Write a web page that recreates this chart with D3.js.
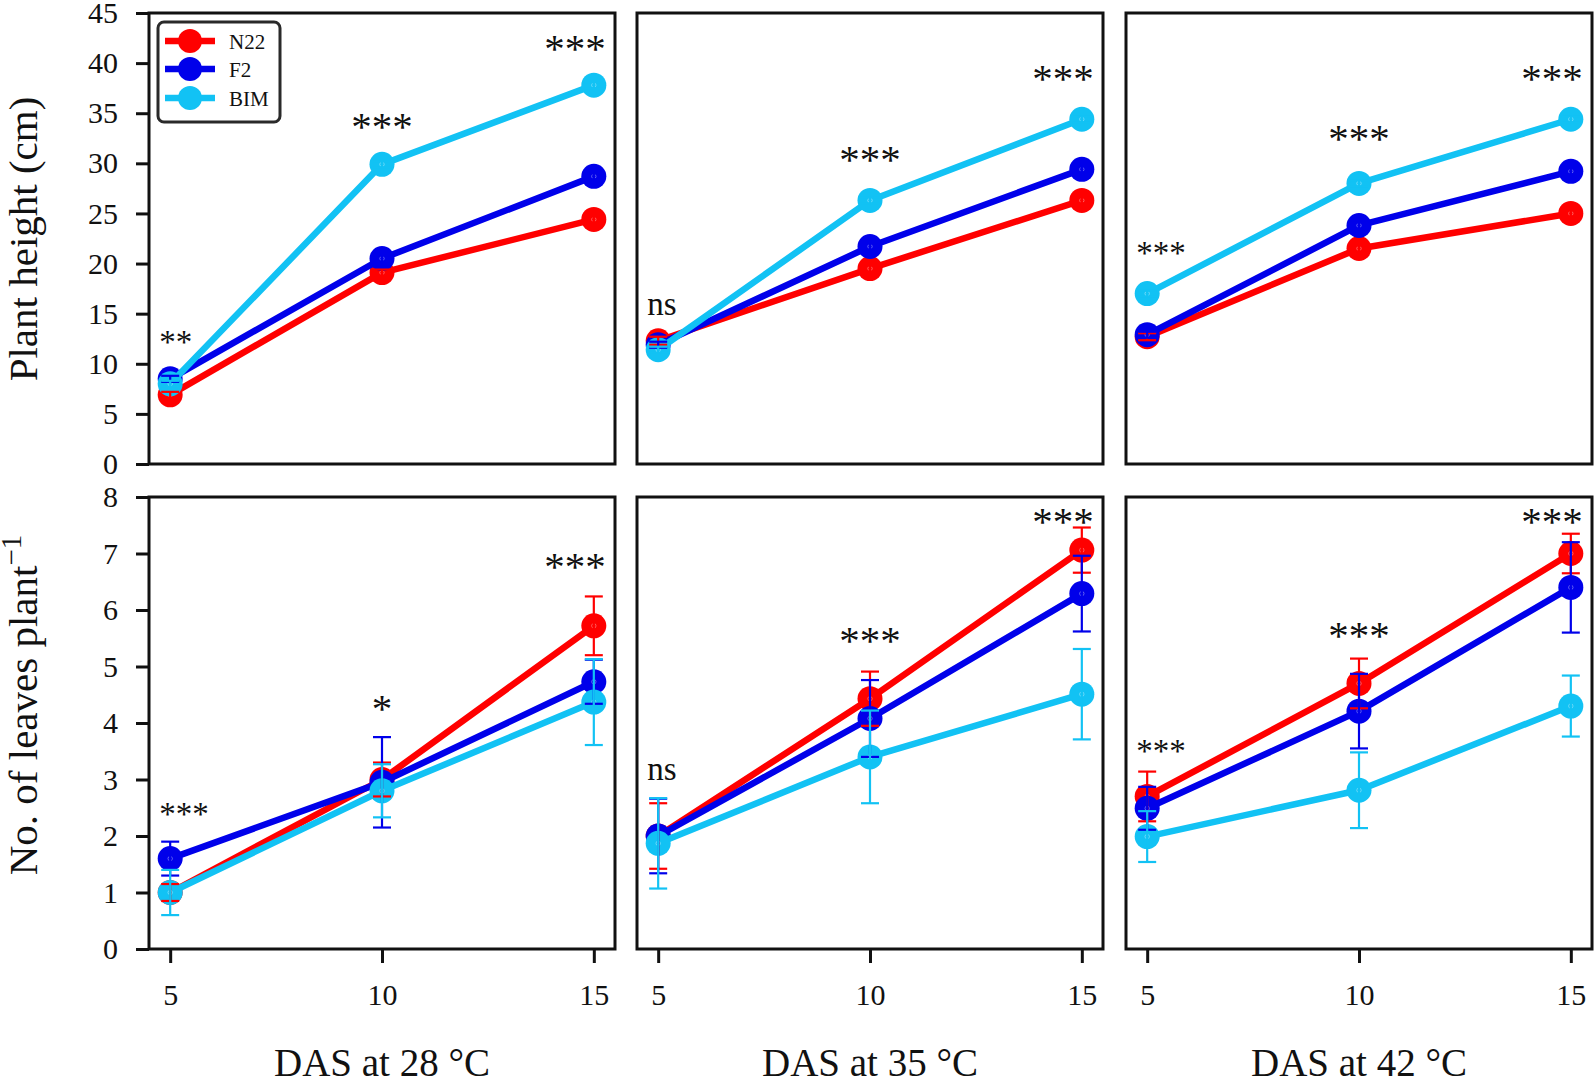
<!DOCTYPE html>
<html><head><meta charset="utf-8">
<script src="https://cdn.jsdelivr.net/npm/d3@7"></script>
<style>
body{margin:0;background:#fff}
svg{display:block}
text{font-family:"Liberation Serif","Times New Roman",serif;fill:#111}
</style>
</head><body>
<svg id="chart" width="1595" height="1084"></svg>
<script>
// ---------------- data ----------------
const days = [5, 10, 15];
const temperatures = ["28", "35", "42"];
const seriesNames = ["N22", "F2", "BIM"];
const seriesColors = ["#ff0000", "#0000ea", "#12c2f4"];

// Plant height (cm): [panel 28°C, 35°C, 42°C] x [5, 10, 15 DAS]
const heightN22 = [[6.9, 19.1, 24.4], [12.3, 19.5, 26.3], [12.7, 21.5, 25.0]];
const heightF2  = [[8.5, 20.5, 28.7], [11.9, 21.7, 29.4], [12.9, 23.8, 29.2]];
const heightBIM = [[8.0, 29.9, 37.8], [11.4, 26.3, 34.4], [17.0, 28.0, 34.4]];
const heightN22Err = [[0.3, 0.3, 0.3], [0.4, 0.3, 0.3], [0.35, 0.3, 0.3]];
const heightF2Err  = [[0.3, 0.3, 0.3], [0.3, 0.3, 0.3], [0.3, 0.3, 0.3]];
const heightBIMErr = [[0.3, 0.3, 0.3], [0.3, 0.3, 0.3], [0.3, 0.3, 0.3]];

// No. of leaves per plant
const leavesN22 = [[1.0, 3.0, 5.72], [2.0, 4.43, 7.06], [2.7, 4.7, 7.0]];
const leavesF2  = [[1.6, 2.95, 4.73], [2.0, 4.08, 6.29], [2.49, 4.21, 6.4]];
const leavesBIM = [[1.0, 2.8, 4.37], [1.87, 3.4, 4.51], [1.99, 2.81, 4.3]];
const leavesN22Err = [[0.15, 0.3, 0.52], [0.58, 0.48, 0.4], [0.44, 0.44, 0.35]];
const leavesF2Err  = [[0.3, 0.8, 0.39], [0.66, 0.68, 0.67], [0.38, 0.66, 0.8]];
const leavesBIMErr = [[0.4, 0.47, 0.76], [0.8, 0.82, 0.8], [0.45, 0.67, 0.54]];

// significance labels and their (baseline) heights in data units
const heightSig  = [["**", "***", "***"], ["ns", "***", "***"], ["***", "***", "***"]];
const heightSigY = [[11.1, 32.3, 40.1], [14.9, 29.0, 37.1], [20.0, 31.1, 37.1]];
const leavesSig  = [["***", "*", "***"], ["ns", "***", "***"], ["***", "***", "***"]];
const leavesSigY = [[2.19, 4.01, 6.53], [2.99, 5.22, 7.32], [3.31, 5.31, 7.32]];

const heightTicks = [0, 5, 10, 15, 20, 25, 30, 35, 40, 45];
const leavesTicks = [0, 1, 2, 3, 4, 5, 6, 7, 8];
const dayTicks = [5, 10, 15];

// ---------------- layout ----------------
const FONT = '"Liberation Serif","Times New Roman",serif';
const svg = d3.select("#chart");
const panelLeft = [149, 637, 1126];
const panelW = 466;
const rowsCfg = [
  { top: 13, bottom: 464, domain: [0, 45], ticks: heightTicks,
    vals: [heightN22, heightF2, heightBIM], errs: [heightN22Err, heightF2Err, heightBIMErr],
    sig: heightSig, sigY: heightSigY },
  { top: 497, bottom: 949, domain: [0, 8], ticks: leavesTicks,
    vals: [leavesN22, leavesF2, leavesBIM], errs: [leavesN22Err, leavesF2Err, leavesBIMErr],
    sig: leavesSig, sigY: leavesSigY }
];

const sigAnchor = ["start", "middle", "end"];
const sigShift = [-0.26, 0, 0.28];
const sigSize = [33, 41, 41];

rowsCfg.forEach((row, ri) => {
  const y = d3.scaleLinear().domain(row.domain).range([row.bottom, row.top]);
  temperatures.forEach((t, pi) => {
    const x = d3.scaleLinear().domain([4.5, 15.5]).range([panelLeft[pi], panelLeft[pi] + panelW]);
    const g = svg.append("g");

    // lines + markers
    seriesNames.forEach((s, si) => {
      const pts = days.map((d, di) => ({ d, v: row.vals[si][pi][di] }));
      g.append("path").datum(pts)
        .attr("d", d3.line().x(p => x(p.d)).y(p => y(p.v)))
        .attr("fill", "none").attr("stroke", seriesColors[si])
        .attr("stroke-width", 6.5).attr("stroke-linejoin", "round");
      g.selectAll(null).data(pts).enter().append("circle")
        .attr("cx", p => x(p.d)).attr("cy", p => y(p.v)).attr("r", 12.5)
        .attr("fill", seriesColors[si]);
      g.selectAll(null).data(pts).enter().append("circle")
        .attr("cx", p => x(p.d)).attr("cy", p => y(p.v)).attr("r", 2.2)
        .attr("fill", "none").attr("stroke", "rgba(255,255,255,0.35)").attr("stroke-width", 1);
    });
    // error bars on top
    seriesNames.forEach((s, si) => {
      const pts = days.map((d, di) => ({ d, v: row.vals[si][pi][di], e: row.errs[si][pi][di] }));
      const eb = g.selectAll(null).data(pts).enter().append("g")
        .attr("stroke", seriesColors[si]).attr("stroke-width", 2.2);
      eb.append("line").attr("x1", p => x(p.d)).attr("x2", p => x(p.d))
        .attr("y1", p => y(p.v - p.e)).attr("y2", p => y(p.v + p.e));
      eb.append("line").attr("x1", p => x(p.d) - 9).attr("x2", p => x(p.d) + 9)
        .attr("y1", p => y(p.v - p.e)).attr("y2", p => y(p.v - p.e));
      eb.append("line").attr("x1", p => x(p.d) - 9).attr("x2", p => x(p.d) + 9)
        .attr("y1", p => y(p.v + p.e)).attr("y2", p => y(p.v + p.e));
    });

    // significance annotations
    days.forEach((d, di) => {
      g.append("text")
        .attr("x", x(d + sigShift[di])).attr("y", y(row.sigY[pi][di]))
        .attr("text-anchor", sigAnchor[di])
        .attr("font-family", FONT)
        .attr("font-size", sigSize[di])
        .text(row.sig[pi][di]);
    });

    // frame
    g.append("rect").attr("x", panelLeft[pi]).attr("y", row.top)
      .attr("width", panelW).attr("height", row.bottom - row.top)
      .attr("fill", "none").attr("stroke", "#111").attr("stroke-width", 3);

    // axes
    if (pi === 0) {
      const ax = svg.append("g").attr("transform", `translate(${panelLeft[pi]},0)`)
        .call(d3.axisLeft(y).tickValues(row.ticks).tickFormat(d3.format("d"))
          .tickSizeInner(13).tickSizeOuter(0).tickPadding(18));
      ax.select(".domain").remove();
      ax.attr("font-family", FONT);
      ax.selectAll("line").attr("stroke", "#111").attr("stroke-width", 3);
      ax.selectAll("text").attr("font-size", 30).attr("font-family", FONT).attr("fill", "#111");
    }
    if (ri === 1) {
      const ax = svg.append("g").attr("transform", `translate(0,${row.bottom})`)
        .call(d3.axisBottom(x).tickValues(dayTicks).tickFormat(d3.format("d"))
          .tickSizeInner(14).tickSizeOuter(0).tickPadding(21));
      ax.select(".domain").remove();
      ax.attr("font-family", FONT);
      ax.selectAll("line").attr("stroke", "#111").attr("stroke-width", 3);
      ax.selectAll("text").attr("font-size", 30).attr("font-family", FONT).attr("fill", "#111");
      svg.append("text")
        .attr("x", panelLeft[pi] + panelW / 2).attr("y", 1076)
        .attr("text-anchor", "middle").attr("font-size", 39).attr("font-family", FONT)
        .text(`DAS at ${t} °C`);
    }
  });
});

// y-axis titles
svg.append("text")
  .attr("transform", "translate(37,239) rotate(-90)")
  .attr("text-anchor", "middle").attr("font-size", 41).attr("font-family", FONT)
  .text("Plant height (cm)");
const yt2 = svg.append("text")
  .attr("transform", "translate(37,705) rotate(-90)")
  .attr("text-anchor", "middle").attr("font-size", 41).attr("font-family", FONT);
yt2.append("tspan").text("No. of leaves plant");
yt2.append("tspan").attr("dy", -16).attr("font-size", 29).text("\u22121");

// legend
const lg = svg.append("g");
lg.append("rect").attr("x", 158).attr("y", 22).attr("width", 122).attr("height", 100)
  .attr("rx", 6).attr("fill", "#fff").attr("stroke", "#2a2a2a").attr("stroke-width", 3);
const legendRows = [41, 69, 98];
seriesNames.forEach((s, si) => {
  const ly = legendRows[si];
  lg.append("line").attr("x1", 165).attr("x2", 215).attr("y1", ly).attr("y2", ly)
    .attr("stroke", seriesColors[si]).attr("stroke-width", 6.5);
  lg.append("circle").attr("cx", 190).attr("cy", ly).attr("r", 12).attr("fill", seriesColors[si]);
  lg.append("text").attr("x", 229).attr("y", ly + 7.5).attr("font-size", 21).attr("font-family", FONT).text(s);
});
</script>
</body></html>
